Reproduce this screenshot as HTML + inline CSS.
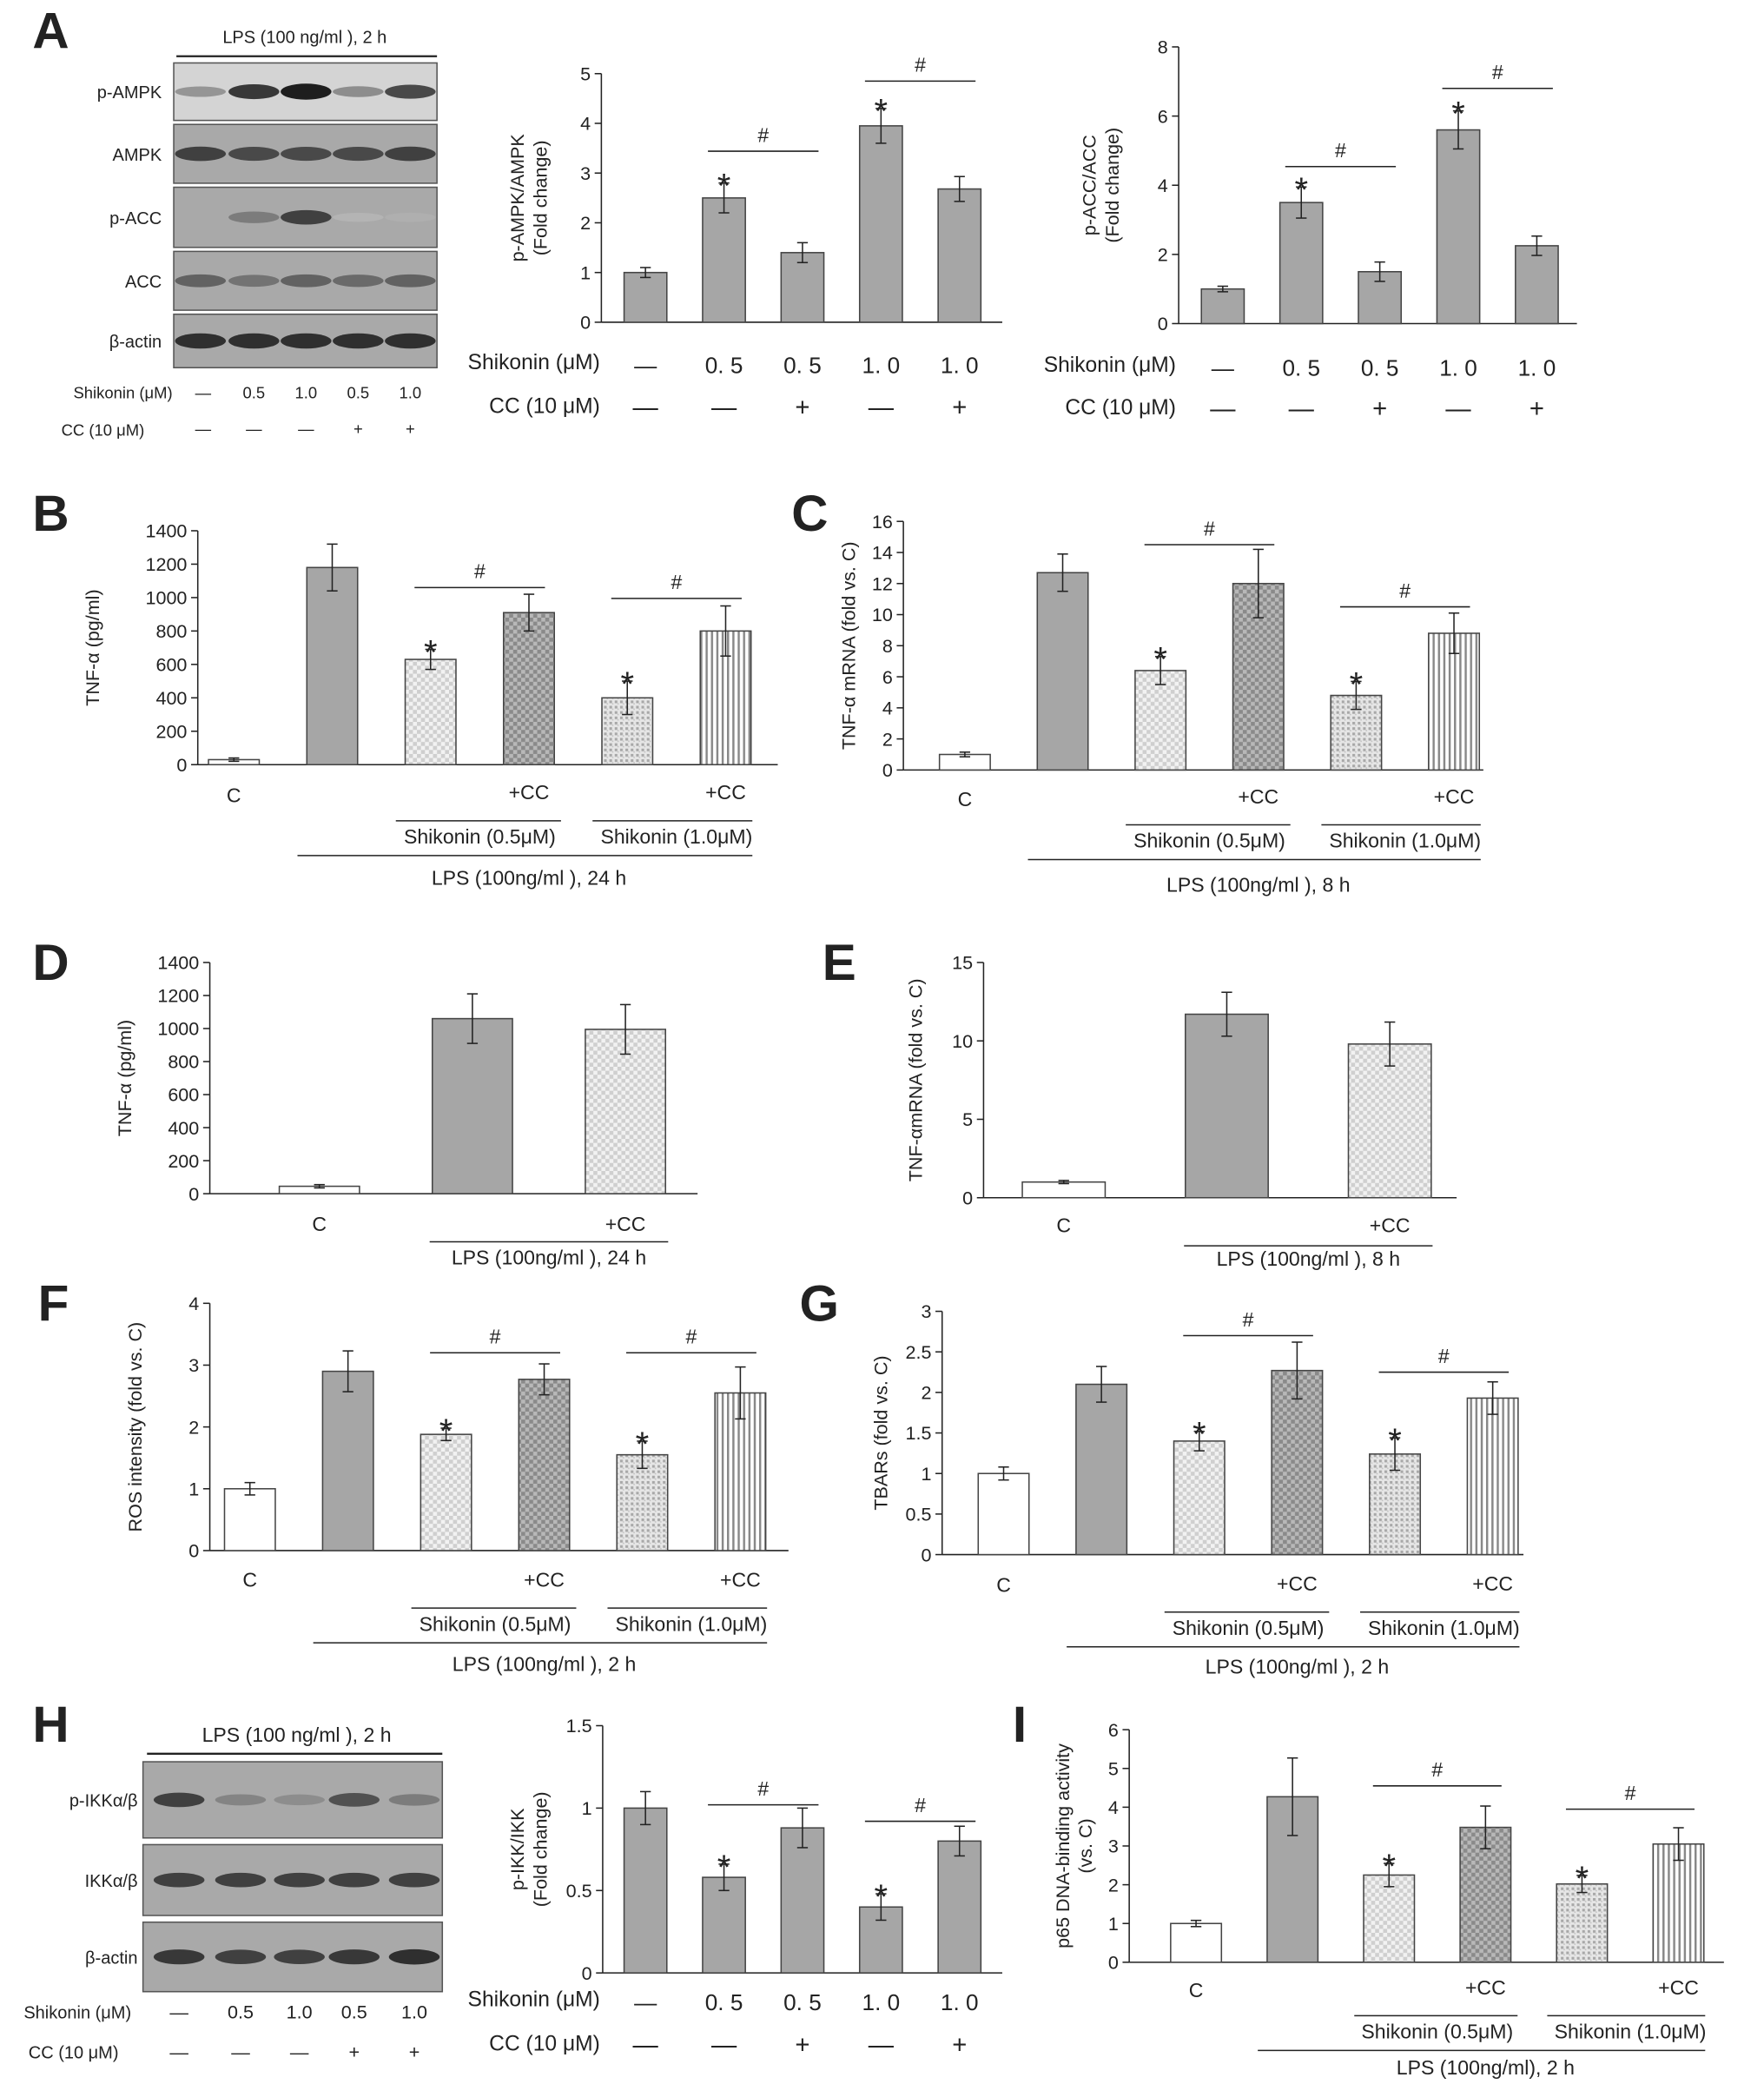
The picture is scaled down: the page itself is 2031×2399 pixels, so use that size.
<!DOCTYPE html>
<html><head><meta charset="utf-8">
<style>
html,body{margin:0;padding:0;background:#fff;}
svg{display:block;}
text{font-family:"Liberation Sans","DejaVu Sans",sans-serif;fill:#222;}
</style></head>
<body>
<svg id="fig" width="2031" height="2399" viewBox="0 0 1320 1559" xmlns="http://www.w3.org/2000/svg">
<defs>
<pattern id="pLightCheck" width="6" height="6" patternUnits="userSpaceOnUse"><rect width="6" height="6" fill="#f2f2f2"/><rect width="3" height="3" fill="#cfcfcf"/><rect x="3" y="3" width="3" height="3" fill="#cfcfcf"/></pattern>
<pattern id="pDarkCheck" width="6" height="6" patternUnits="userSpaceOnUse"><rect width="6" height="6" fill="#b8b8b8"/><rect width="3" height="3" fill="#8a8a8a"/><rect x="3" y="3" width="3" height="3" fill="#8a8a8a"/></pattern>
<pattern id="pDots" width="4" height="4" patternUnits="userSpaceOnUse"><rect width="4" height="4" fill="#e6e6e6"/><rect width="2" height="2" fill="#a8a8a8"/><rect x="2" y="2" width="1" height="1" fill="#c0c0c0"/></pattern>
<pattern id="pVert" width="4" height="4" patternUnits="userSpaceOnUse"><rect width="4" height="4" fill="#fff"/><rect width="1.6" height="4" fill="#888"/></pattern>
</defs>
<g id="root"></g>
</svg>
<script>
// ---------- data ----------
const ampkValues=[1,2.5,1.4,3.95,2.68];
const ampkErr=[0.1,0.3,0.2,0.35,0.25];
const accValues=[1,3.5,1.5,5.6,2.25];
const accErr=[0.08,0.45,0.28,0.55,0.28];
const bValues=[30,1180,630,910,400,800];
const bErr=[10,140,60,110,100,150];
const cValues=[1,12.7,6.4,12,4.8,8.8];
const cErr=[0.15,1.2,0.9,2.2,0.9,1.3];
const dValues=[45,1060,995];
const dErr=[10,150,150];
const eValues=[1,11.7,9.8];
const eErr=[0.1,1.4,1.4];
const fValues=[1,2.9,1.88,2.77,1.55,2.55];
const fErr=[0.1,0.33,0.1,0.25,0.22,0.42];
const gValues=[1,2.1,1.4,2.27,1.24,1.93];
const gErr=[0.08,0.22,0.12,0.35,0.2,0.2];
const hValues=[1,0.58,0.88,0.4,0.8];
const hErr=[0.1,0.08,0.12,0.08,0.09];
const iValues=[1,4.27,2.25,3.48,2.02,3.05];
const iErr=[0.08,1,0.3,0.55,0.22,0.42];
const ticksA1=[0,1,2,3,4,5];
const ticksA2=[0,2,4,6,8];
const ticksB=[0,200,400,600,800,1000,1200,1400];
const ticksC=[0,2,4,6,8,10,12,14,16];
const ticksE=[0,5,10,15];
const ticksF=[0,1,2,3,4];
const ticksG=[0,0.5,1,1.5,2,2.5,3];
const ticksH=[0,0.5,1,1.5];
const ticksI=[0,1,2,3,4,5,6];
const shikLabels=["—","0. 5","0. 5","1. 0","1. 0"];
const ccLabels=["—","—","+","—","+"];
const blotLabelsShik=["—","0.5","1.0","0.5","1.0"];
const blotLabelsCC=["—","—","—","+","+"];
const ampkBlot={"p-AMPK":[0.3,0.85,1,0.35,0.75],"AMPK":[0.8,0.75,0.75,0.75,0.8],"p-ACC":[0,0.45,0.8,0.12,0.15],"ACC":[0.6,0.5,0.6,0.55,0.6],"β-actin":[0.9,0.9,0.9,0.9,0.9]};
const ikkBlot={"p-IKKα/β":[0.8,0.4,0.35,0.7,0.45],"IKKα/β":[0.8,0.8,0.8,0.8,0.8],"β-actin":[0.85,0.8,0.8,0.85,0.9]};
const sixFills=["#fff","#a6a6a6","url(#pLightCheck)","url(#pDarkCheck)","url(#pDots)","url(#pVert)"];
const threeFills=["#fff","#a6a6a6","url(#pLightCheck)"];
const fiveFills=["#a6a6a6","#a6a6a6","#a6a6a6","#a6a6a6","#a6a6a6"];

const NS="http://www.w3.org/2000/svg";
const root=document.getElementById('root');
function el(tag,attrs,parent,txt){const e=document.createElementNS(NS,tag);for(const k in attrs)e.setAttribute(k,attrs[k]);if(txt!==undefined)e.textContent=txt;(parent||root).appendChild(e);return e;}
function txt(x,y,s,size,parent,anchor,extra){const t=el('text',Object.assign({x:x,y:y,'font-size':size||13,'text-anchor':anchor||'middle'},extra||{}),parent,s);return t;}
function line(x1,y1,x2,y2,parent,w){return el('line',{x1,y1,x2,y2,stroke:'#222','stroke-width':w||1},parent);}

function chart(o){
  const g=el('g',{},root);
  
  
  const n=o.values.length;
  const step=(o.c1-o.c0)/(n-1);
  const xs=i=>o.c0+i*step;
  const ys=v=>o.base-(v/o.max)*(o.base-o.top);
  const ax=line(o.ax,o.top,o.ax,o.base,g);
  
  const bx=line(o.ax,o.base,o.axEnd,o.base,g);
  
  o.ticks.forEach(t=>{
    line(o.ax-5,ys(t),o.ax,ys(t),g);
    const tl=txt(o.ax-8,ys(t)+5,String(t),14,g,'end');
    
  });
  o.values.forEach((v,i)=>{
    const cx=xs(i),y=ys(v),w=o.bw;
    const r=el('rect',{x:cx-w/2,y:y,width:w,height:o.base-y,fill:o.fills[i],stroke:'#444','stroke-width':1},g);
    
    const e1=ys(v+o.err[i]),e2=ys(v-o.err[i]);
    line(cx,e1,cx,e2,g);line(cx-4,e1,cx+4,e1,g);line(cx-4,e2,cx+4,e2,g);
    if(o.stars&&o.stars.includes(i)){const s=txt(cx,e1+11,'*',26,g);}
  });
  (o.hash||[]).forEach(h=>{
    const yl=ys(h[2]);
    line(xs(h[0])-12,yl,xs(h[1])+12,yl,g);
    const t=txt((xs(h[0])+xs(h[1]))/2,yl-7,'#',15,g);
    
  });
  const yl=el('text',{transform:`translate(${o.ylx},${(o.top+o.base)/2}) rotate(-90)`,'font-size':14,'text-anchor':'middle'},g);
  
  o.ylabel.forEach((s,k)=>{el('tspan',{x:0,dy:k?17:0},yl,s);});
  return {g,xs,ys};
}
function panelLetter(x,y,s){const t=txt(x,y,s,38,root,'middle',{'font-weight':'bold'});}

[["A",38,36],["B",38,397],["C",606,397],["D",38,733],["E",628,733],["F",40,988],["G",613,988],["H",38,1303],["I",763,1303]].forEach(p=>panelLetter(p[1],p[2],p[0]));

function blot(name,x0,x1,rows,lanes,data,labelX){
  const g=el('g',{},root);
  
  const keys=Object.keys(data);
  keys.forEach((k,ri)=>{
    const r=rows[ri];
    el('rect',{x:x0,y:r[0],width:x1-x0,height:r[1]-r[0],fill:k==='p-AMPK'?'#d4d4d4':'#a9a9a9',stroke:'#555','stroke-width':1},g);
    const cy=(r[0]+r[1])/2;
    data[k].forEach((v,i)=>{
      if(v<=0)return;
      const c=Math.round(200-v*170);
      el('ellipse',{cx:lanes[i],cy:cy,rx:19,ry:3+v*3,fill:`rgb(${c},${c},${c})`},g);
    });
    const lt=txt(labelX,cy+5,k,13,g,'end');
    
  });
}
blot('western-blot-a',130,327,[[47,90],[93,137],[140,185],[188,232],[235,275]],[150,190,229,268,307],ampkBlot,121);
txt(228,32,'LPS (100 ng/ml ), 2 h',13);line(132,42,327,42,root,1.5);
blotLabelsShik.forEach((s,i)=>txt([152,190,229,268,307][i],298,s,12));
txt(92,298,'Shikonin (μM)',12,root,'middle');
blotLabelsCC.forEach((s,i)=>txt([152,190,229,268,307][i],325,s,12));
txt(77,326,'CC (10 μM)',12);

blot('western-blot-h',107,331,[[1318,1375],[1380,1433],[1438,1490]],[134,180,224,265,310],ikkBlot,103);
txt(222,1303,'LPS (100 ng/ml ), 2 h',15);line(110,1312,331,1312,root,1.5);
blotLabelsShik.forEach((s,i)=>txt([134,180,224,265,310][i],1510,s,14));
txt(58,1510,'Shikonin (μM)',13);
blotLabelsCC.forEach((s,i)=>txt([134,180,224,265,310][i],1540,s,14));
txt(55,1540,'CC (10 μM)',13);

function condRows(o,xs,cy,ccy,lx){
  txt(lx,cy,'Shikonin (μM)',16,root,'end');
  shikLabels.forEach((s,i)=>txt(xs(i),cy+3,s,17,root,'middle',{'font-family':'"Liberation Serif",serif'}));
  txt(lx,ccy,'CC (10 μM)',16,root,'end');
  ccLabels.forEach((s,i)=>txt(xs(i),ccy+2,s,19));
}
let r;
r=chart({name:'chart-a-ampk',values:ampkValues,err:ampkErr,fills:fiveFills,ax:450,axEnd:750,base:241,top:55,max:5,ticks:ticksA1,c0:483,c1:718,bw:32,stars:[1,3],hash:[[1,2,3.44],[3,4,4.85]],ylx:392,ylabel:['p-AMPK/AMPK','(Fold change)']});
condRows(null,r.xs,276,309,449);
r=chart({name:'chart-a-acc',values:accValues,err:accErr,fills:fiveFills,ax:882,axEnd:1180,base:242,top:35,max:8,ticks:ticksA2,c0:915,c1:1150,bw:32,stars:[1,3],hash:[[1,2,4.54],[3,4,6.8]],ylx:820,ylabel:['p-ACC/ACC','(Fold change)']});
condRows(null,r.xs,278,310,880);
r=chart({name:'chart-h-ikk',values:hValues,err:hErr,fills:fiveFills,ax:451,axEnd:750,base:1476,top:1291,max:1.5,ticks:ticksH,c0:483,c1:718,bw:32,stars:[1,3],hash:[[1,2,1.02],[3,4,0.92]],ylx:392,ylabel:['p-IKK/IKK','(Fold change)']});
condRows(null,r.xs,1501,1534,449);

function groupLabels(xs,yc,ycc,lpsY,lpsText,fs){
  txt(xs(0),yc,'C',15);
  txt(xs(3),ycc,'+CC',15);txt(xs(5),ycc,'+CC',15);
  line(xs(2)-26,ycc+16,xs(3)+24,ycc+16);
  line(xs(4)-26,ycc+16,xs(5)+20,ycc+16);
  txt((xs(2)+xs(3))/2,ycc+33,'Shikonin (0.5μM)',15);
  txt((xs(4)+xs(5))/2,ycc+33,'Shikonin (1.0μM)',15);
  line(xs(1)-26,ycc+42,xs(5)+20,ycc+42);
  txt((xs(1)+xs(5))/2,lpsY,lpsText,15);
}
r=chart({name:'chart-b-tnf-protein',values:bValues,err:bErr,fills:sixFills,ax:148,axEnd:582,base:572,top:397,max:1400,ticks:ticksB,c0:175,c1:543,bw:38,stars:[2,4],hash:[[2,3,1060],[4,5,995]],ylx:74,ylabel:['TNF-α (pg/ml)']});
groupLabels(r.xs,600,598,662,'LPS (100ng/ml ), 24 h');
r=chart({name:'chart-c-tnf-mrna',values:cValues,err:cErr,fills:sixFills,ax:676,axEnd:1110,base:576,top:390,max:16,ticks:ticksC,c0:722,c1:1088,bw:38,stars:[2,4],hash:[[2,3,14.5],[4,5,10.5]],ylx:640,ylabel:['TNF-α mRNA (fold vs. C)']});
groupLabels(r.xs,603,601,667,'LPS (100ng/ml ), 8 h');
r=chart({name:'chart-f-ros',values:fValues,err:fErr,fills:sixFills,ax:157,axEnd:590,base:1160,top:975,max:4,ticks:ticksF,c0:187,c1:554,bw:38,stars:[2,4],hash:[[2,3,3.2],[4,5,3.2]],ylx:106,ylabel:['ROS intensity  (fold vs. C)']});
groupLabels(r.xs,1187,1187,1250,'LPS (100ng/ml ), 2 h');
r=chart({name:'chart-g-tbars',values:gValues,err:gErr,fills:sixFills,ax:705,axEnd:1140,base:1163,top:981,max:3,ticks:ticksG,c0:751,c1:1117,bw:38,stars:[2,4],hash:[[2,3,2.7],[4,5,2.25]],ylx:664,ylabel:['TBARs (fold vs. C)']});
groupLabels(r.xs,1191,1190,1252,'LPS (100ng/ml ), 2 h');
r=chart({name:'chart-i-p65',values:iValues,err:iErr,fills:sixFills,ax:845,axEnd:1290,base:1468,top:1294,max:6,ticks:ticksI,c0:895,c1:1256,bw:38,stars:[2,4],hash:[[2,3,4.55],[4,5,3.95]],ylx:800,ylabel:['p65 DNA-binding activity','(vs. C)']});
groupLabels(r.xs,1494,1492,1552,'LPS (100ng/ml), 2 h');

function labels3(xs,y,lineY,lpsY,lpsText){
  txt(xs(0),y,'C',15);txt(xs(2),y,'+CC',15);
  line(xs(1)-32,lineY,xs(2)+32,lineY);
  txt((xs(1)+xs(2))/2,lpsY,lpsText,15);
}
r=chart({name:'chart-d-tnf-protein',values:dValues,err:dErr,fills:threeFills,ax:157,axEnd:522,base:893,top:720,max:1400,ticks:ticksB,c0:239,c1:468,bw:60,hash:[],ylx:98,ylabel:['TNF-α (pg/ml)']});
labels3(r.xs,921,929,946,'LPS (100ng/ml ), 24 h');
r=chart({name:'chart-e-tnf-mrna',values:eValues,err:eErr,fills:threeFills,ax:736,axEnd:1090,base:896,top:720,max:15,ticks:ticksE,c0:796,c1:1040,bw:62,hash:[],ylx:690,ylabel:['TNF-αmRNA (fold vs. C)']});
labels3(r.xs,922,932,947,'LPS (100ng/ml ), 8 h');
</script>
</body></html>
